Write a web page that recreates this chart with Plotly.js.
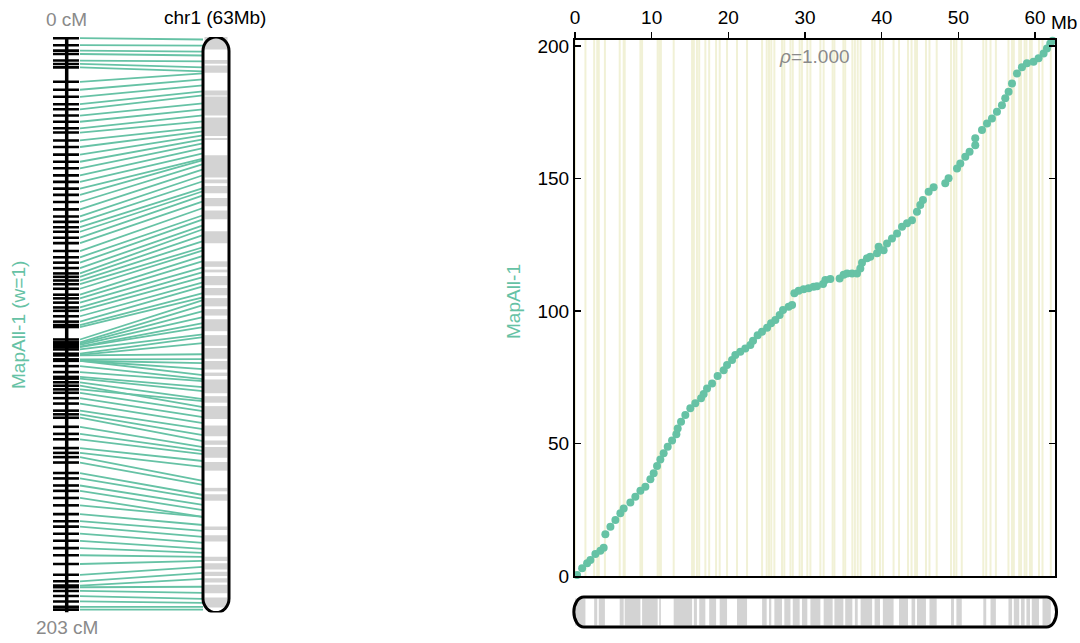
<!DOCTYPE html>
<html><head><meta charset="utf-8">
<script src="https://cdn.plot.ly/plotly-3.0.1.min.js"></script>
<style>html,body{margin:0;padding:0;background:#fff}#chart{width:1080px;height:643px}</style>
</head><body><div id="chart"></div>
<script>
// ---------------- data ----------------
const physicalMb = [0.27,0.93,1.58,2.01,2.66,3.31,3.74,3.96,4.62,5.27,5.92,6.35,7.22,7.87,8.53,9.18,9.83,10.26,10.70,11.13,11.56,12.09,12.66,13.22,13.39,13.83,14.39,15.04,15.69,16.44,16.78,17.22,17.88,18.60,19.39,19.83,20.48,20.91,21.56,22.21,22.87,23.22,23.82,24.39,25.05,25.57,26.13,26.69,27.13,27.86,28.31,28.61,29.17,29.82,30.47,31.12,31.56,32.35,32.65,33.30,34.51,35.03,35.48,36.13,36.78,37.21,37.43,38.08,38.51,39.39,39.60,40.25,40.69,41.34,42.00,42.65,43.30,43.95,44.60,45.03,45.38,46.12,46.77,48.29,48.72,49.82,50.25,50.90,51.46,52.20,52.20,53.08,53.73,54.38,55.03,55.68,56.11,56.55,56.99,57.64,58.29,58.94,59.80,60.46,61.11,61.55,61.98,62.28];
const geneticCm = [0.4,2.9,4.8,6.0,8.3,9.5,10.7,15.8,18.6,21.1,23.7,25.5,27.7,29.9,32.2,33.7,36.5,38.8,41.5,44.0,46.3,48.8,51.1,53.5,55.7,58.2,60.8,63.3,65.2,67.1,68.7,70.8,72.7,75.5,77.7,79.6,81.5,83.4,84.6,85.9,87.2,88.8,90.9,92.2,93.7,95.4,96.6,98.5,100.4,101.6,102.3,106.7,107.7,108.2,108.6,109.2,109.4,110.2,111.7,112.1,112.3,113.7,114.2,114.2,114.2,116.1,118.2,119.9,120.5,121.8,124.3,123.0,125.5,127.4,129.3,131.8,133.1,134.3,137.5,140.0,141.9,145.0,146.7,148.2,150.1,153.8,155.7,158.2,160.1,162.6,165.2,168.3,170.8,172.7,175.2,177.7,180.3,182.8,185.9,189.7,192.0,193.5,194.1,195.4,197.2,199.1,201.0,202.0];
const bandStartMb = [0,2.5,3.1,5.83,6.48,8.75,10.98,12.87,15.5,16.2,17.5,18.87,21.13,24.4,25.3,26.0,27.3,28.4,29.6,30.7,32.43,33.83,35.24,36.5,37.25,39.07,40.15,42.26,43.89,44.6,46.23,49.04,49.74,53.25,54.19,56.53,57.23,58.17,58.87,59.57,60.97];
const bandEndMb   = [1.36,2.9,3.9,6.35,8.53,10.78,11.2,15.27,15.9,17.0,18.4,19.83,22.44,25.0,25.6,27.0,28.1,29.3,30.3,32.0,33.6,35.0,36.17,36.87,38.75,39.78,41.55,43.43,44.36,45.77,47.17,49.42,50.44,53.63,54.89,57.0,57.93,58.64,59.34,60.51,62.05];
const chrLengthMb = 62.6;
const mapLengthCm = 203;
const xTickVals = [0,10,20,30,40,50,60];
const yTickVals = [0,50,100,150,200];
const mapName = 'MapAll-1';
const mapLabel = 'MapAll-1 (w=1)';
const chrLabel = 'chr1 (63Mb)';
const topLabel = '0 cM';
const bottomLabel = '203 cM';
const rhoLabel = '<i>ρ</i>=1.000';
const unitLabel = 'Mb';

// ---------------- layout helpers ----------------
const W = 1080, H = 643;
const py = p => 1 - p / H;
const green = '#66c2a5';
const grayText = '#8a8a8a';
const FONT = 'Liberation Sans, Arial, Helvetica, sans-serif';
const xDom = [575 / W, 1055 / W];
const yDom = [py(576), py(39.5)];
const yMax = 202.5;
const pxPerMb = (1055 - 575) / chrLengthMb;
const x3Range = [-575 / pxPerMb, (W - 575) / pxPerMb];

// left panel lines
const lx = [], ly = [], tx = [], ty = [];
physicalMb.forEach((mb, i) => {
  lx.push(80, 203, null); ly.push(geneticCm[i] / mapLengthCm, mb / chrLengthMb, null);
  tx.push(53, 79, null); ty.push(geneticCm[i] / mapLengthCm, geneticCm[i] / mapLengthCm, null);
});

const traces = [
  {type:'scatter', mode:'lines', x:lx, y:ly, xaxis:'x2', yaxis:'y2', line:{color:green, width:1.8}, hoverinfo:'skip'},
  {type:'scatter', mode:'lines', x:tx, y:ty, xaxis:'x2', yaxis:'y2', line:{color:'#000', width:2.6}, hoverinfo:'skip'},
  {type:'scatter', mode:'lines', x:[66.7,66.7], y:[0, mapLengthCm/mapLengthCm], xaxis:'x2', yaxis:'y2', line:{color:'#000', width:3.5}, hoverinfo:'skip'},
  {type:'scatter', mode:'markers', x:physicalMb, y:geneticCm, xaxis:'x', yaxis:'y', cliponaxis:false, marker:{color:green, size:8}, name:mapName}
];

const shapes = [];
// light vertical lines in scatter
bandStartMb.concat(bandEndMb).forEach(v => shapes.push({type:'line', xref:'x', yref:'y', x0:v, x1:v, y0:0, y1:yMax, line:{color:'#f1f1d6', width:2}, layer:'below'}));
// bottom chromosome bands
const bTop = py(598.5), bBot = py(625.5);
bandStartMb.forEach((s, i) => shapes.push({type:'rect', xref:'x3', yref:'paper', x0:s, x1:bandEndMb[i], y0:bBot, y1:bTop, fillcolor:'#d3d3d3', line:{width:0}}));
// bottom chromosome outline
(function(){
  const yt = py(597), yb = py(627), mid = (yt + yb) / 2, ry = (yt - yb) / 2;
  const xl = -0.15, xr = chrLengthMb + 0.2, rx = 1.3, k = 0.552;
  const p = `M ${xl+rx},${yt} L ${xr-rx},${yt} C ${xr-rx+k*rx},${yt} ${xr},${mid+k*ry} ${xr},${mid} C ${xr},${mid-k*ry} ${xr-rx+k*rx},${yb} ${xr-rx},${yb} L ${xl+rx},${yb} C ${xl+rx-k*rx},${yb} ${xl},${mid-k*ry} ${xl},${mid} C ${xl},${mid+k*ry} ${xl+rx-k*rx},${yt} ${xl+rx},${yt} Z`;
  shapes.push({type:'path', xref:'x3', yref:'paper', path:p, line:{color:'#000', width:3}, fillcolor:'rgba(0,0,0,0)'});
})();
// left chromosome bands
bandStartMb.forEach((s, i) => shapes.push({type:'rect', xref:'x2', yref:'y2', x0:204.5, x1:227.5, y0:s/chrLengthMb, y1:bandEndMb[i]/chrLengthMb, fillcolor:'#d3d3d3', line:{width:0}}));
// left chromosome outline
(function(){
  const xl = 203, xr = 229, xm = 216, rx = 13, t = 0, b = 1, cy = 14 / 575.5, k = 0.552;
  const p = `M ${xl},${t+cy} C ${xl},${t+cy-k*cy} ${xm-k*rx},${t} ${xm},${t} C ${xm+k*rx},${t} ${xr},${t+cy-k*cy} ${xr},${t+cy} L ${xr},${b-cy} C ${xr},${b-cy+k*cy} ${xm+k*rx},${b} ${xm},${b} C ${xm-k*rx},${b} ${xl},${b-cy+k*cy} ${xl},${b-cy} Z`;
  shapes.push({type:'path', xref:'x2', yref:'y2', path:p, line:{color:'#000', width:3}, fillcolor:'rgba(0,0,0,0)'});
})();

const ann = (text, x, y, opts={}) => Object.assign({text, x, y, xref:'paper', yref:'paper', showarrow:false, xanchor:'center', yanchor:'middle', font:{family:FONT, size:19, color:'#000'}}, opts);
const annotations = [
  ann(topLabel, 66.5/W, py(20), {font:{family:FONT, size:19, color:grayText}}),
  ann(bottomLabel, 66.5/W, py(627), {font:{family:FONT, size:19, color:grayText}}),
  ann(chrLabel, 215/W, py(17.5)),
  ann(mapLabel, 18/W, py(325), {textangle:-90, font:{family:FONT, size:19, color:green}}),
  ann(mapName, 513/W, py(302), {textangle:-90, font:{family:FONT, size:19, color:green}}),
  ann(rhoLabel, 814/W, py(57), {font:{family:FONT, size:19, color:grayText}}),
  ann(unitLabel, 1064/W, py(22))
];

const layout = {
  width:W, height:H, margin:{l:0, r:0, t:0, b:0}, paper_bgcolor:'#fff', plot_bgcolor:'rgba(0,0,0,0)',
  showlegend:false, font:{family:FONT, size:19, color:'#000'},
  xaxis:{domain:xDom, range:[0, chrLengthMb], side:'top', anchor:'y', tickvals:xTickVals, ticks:'outside', ticklen:6, tickwidth:1.5, tickcolor:'#000',
         showline:true, linewidth:2, linecolor:'#000', mirror:true, showgrid:false, zeroline:false, tickfont:{family:FONT, size:19, color:'#000'}},
  yaxis:{domain:yDom, range:[0, yMax], anchor:'x', tickvals:yTickVals, ticks:'inside', ticklen:6, tickwidth:1.5, tickcolor:'#000',
         showline:true, linewidth:2, linecolor:'#000', mirror:'ticks', showgrid:false, zeroline:false, tickfont:{family:FONT, size:19, color:'#000'}},
  xaxis2:{domain:[0, 270/W], range:[0, 270], anchor:'y2', visible:false, showgrid:false, zeroline:false},
  yaxis2:{domain:[py(612.5), py(37)], range:[1, 0], anchor:'x2', visible:false, showgrid:false, zeroline:false},
  xaxis3:{domain:[0, 1], range:x3Range, anchor:'y3', visible:false, showgrid:false, zeroline:false},
  yaxis3:{domain:[0, 1], range:[0, 1], anchor:'x3', visible:false, showgrid:false, zeroline:false},
  shapes, annotations
};

Plotly.newPlot('chart', traces, layout, {displayModeBar:false, staticPlot:true});
</script></body></html>
